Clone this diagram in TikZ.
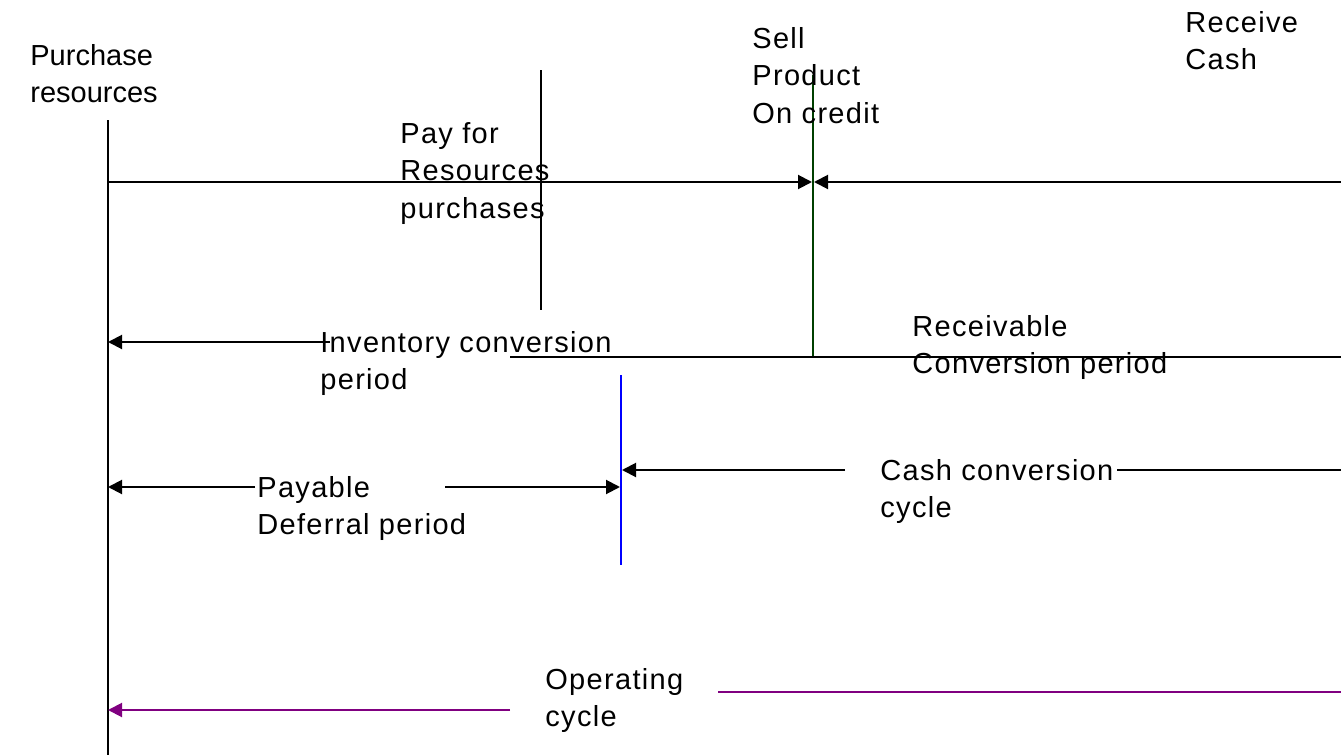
\documentclass[tikz,border=0pt]{standalone}
\usepackage{fontspec}
\setmainfont{Liberation Sans}
\usetikzlibrary{arrows.meta}
\definecolor{selldark}{RGB}{0,64,0}
\definecolor{oppurple}{RGB}{128,0,128}
\begin{document}
\begin{tikzpicture}[x=0.5pt,y=-0.5pt,>={Triangle[length=7pt,width=7pt]},
  lbl/.style={anchor=north west,align=left,inner sep=0pt,
    font=\fontsize{14.5}{18.5}\selectfont},
  wide/.style={lbl,font=\fontsize{14.5}{18.7}\selectfont\addfontfeature{LetterSpace=4.5}},
  ln/.style={line width=1pt}]
  \useasboundingbox (0,0) rectangle (1341,755);
  % time marks
  \coordinate (buytop) at (108,120);   \coordinate (buybot) at (108,755);
  \coordinate (paytop) at (541,70);    \coordinate (paybot) at (541,310);
  \coordinate (selltop) at (813,75);   \coordinate (sellbot) at (813,357);
  \coordinate (ccctop) at (621,375);   \coordinate (cccbot) at (621,565);
  \draw[ln] (buytop) -- (buybot);
  \draw[ln] (paytop) -- (paybot);
  \draw[ln,selldark] (selltop) -- (sellbot);
  \draw[ln,blue] (ccctop) -- (cccbot);
  % labels
  \node[lbl] (buy) at (30,44) {Purchase\\resources};
  \node[wide] (pay) at (400,122) {Pay for\\Resources\\purchases};
  \node[wide] (sell) at (752,27) {Sell\\Product\\On credit};
  \node[wide] (cash) at (1185,11) {Receive\\Cash};
  \node[wide] (icp) at (320,331) {Inventory conversion\\period};
  \node[wide] (rcp) at (912,315) {Receivable\\Conversion period};
  \node[wide] (pdp) at (257,476) {Payable\\Deferral period};
  \node[wide] (ccc) at (880,459) {Cash conversion\\cycle};
  \node[wide] (opc) at (545,668) {Operating\\cycle};
  % periods
  \coordinate (a1) at (108,182);  \coordinate (a2) at (812,182);
  \coordinate (a3) at (814,182);  \coordinate (a4) at (1341,182);
  \draw[ln,->] (a1) -- (a2);
  \draw[ln,->] (a4) -- (a3);
  \coordinate (i1) at (330,342);  \coordinate (i2) at (108,342);
  \draw[ln,->] (i1) -- (i2);
  \coordinate (r1) at (510,357);  \coordinate (r2) at (1341,357);
  \draw[ln] (r1) -- (r2);
  \coordinate (p1) at (255,487);  \coordinate (p2) at (108,487);
  \coordinate (p3) at (445,487);  \coordinate (p4) at (620,487);
  \draw[ln,->] (p1) -- (p2);
  \draw[ln,->] (p3) -- (p4);
  \coordinate (c1) at (845,470);  \coordinate (c2) at (622,470);
  \coordinate (c3) at (1117,470); \coordinate (c4) at (1341,470);
  \draw[ln,->] (c1) -- (c2);
  \draw[ln] (c3) -- (c4);
  \coordinate (o1) at (510,710);  \coordinate (o2) at (108,710);
  \coordinate (o3) at (718,692);  \coordinate (o4) at (1341,692);
  \draw[ln,oppurple,->] (o1) -- (o2);
  \draw[ln,oppurple] (o3) -- (o4);
\end{tikzpicture}
\end{document}
